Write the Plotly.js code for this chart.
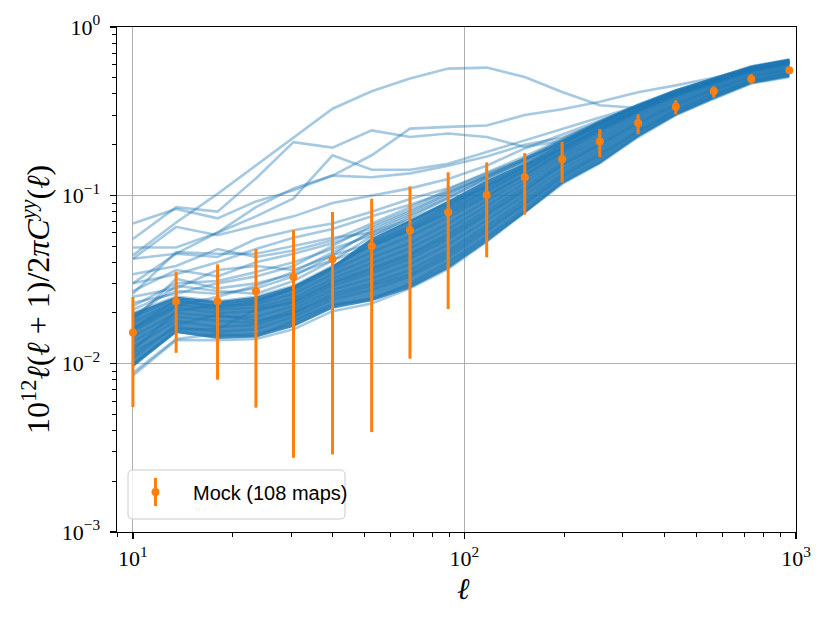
<!DOCTYPE html>
<html>
<head>
<meta charset="utf-8">
<script src="https://cdn.plot.ly/plotly-3.0.1.min.js"></script>
<style>html,body{margin:0;padding:0;background:#fff;}#chart{width:830px;height:623px;}</style>
</head>
<body>
<div id="chart"></div>
<script>
// multipole bins
const ell = [10, 13.5, 18, 23.5, 30.5, 40, 52.5, 68.5, 89.3, 116.7, 152, 197, 256, 334, 434, 565, 733, 955];

// Mock mean and error-bar ends
const mockY  = [0.0153, 0.0234, 0.0235, 0.0269, 0.0327, 0.0417, 0.050, 0.062, 0.0793, 0.1004, 0.128, 0.164, 0.209, 0.269, 0.336, 0.415, 0.491, 0.553];
const mockHi = [0.0249, 0.0352, 0.0389, 0.048, 0.062, 0.0796, 0.0955, 0.113, 0.137, 0.157, 0.178, 0.208, 0.248, 0.303, 0.367, 0.444, 0.524, 0.572];
const mockLo = [0.00552, 0.0116, 0.00803, 0.00548, 0.00276, 0.00289, 0.00392, 0.0107, 0.0211, 0.0428, 0.0768, 0.119, 0.169, 0.231, 0.303, 0.380, 0.461, 0.535];
const legendLabel = 'Mock (108 maps)';
const xTitle = '<i>ℓ</i>';
const yTitle = '10<sup>12</sup><i>ℓ</i>(<i>ℓ</i> + 1)/2<i>π</i><i>C</i><sup><i>yy</i></sup>(<i>ℓ</i>)';

// dense core of the 108 map curves (envelope)
const coreHi = [0.020, 0.025, 0.0235, 0.025, 0.029, 0.038, 0.056, 0.071, 0.093, 0.123, 0.155, 0.203, 0.27, 0.343, 0.42, 0.493, 0.584, 0.64];
const coreLo = [0.0095, 0.0152, 0.0140, 0.0143, 0.0165, 0.0212, 0.0235, 0.028, 0.0366, 0.0527, 0.078, 0.117, 0.154, 0.222, 0.299, 0.375, 0.461, 0.505];

// individual map curves
const mapA = [0.044, 0.069, 0.102, 0.151, 0.222, 0.327, 0.415, 0.494, 0.566, 0.574, 0.505, 0.411, 0.343, 0.33, 0.40, 0.48, 0.57, 0.63];
const mapB = [0.055, 0.085, 0.080, 0.126, 0.207, 0.192, 0.243, 0.222, 0.233, 0.222, 0.194, 0.21, 0.26, 0.32, 0.40, 0.48, 0.56, 0.62];
const mapC = [0.030, 0.045, 0.060, 0.075, 0.096, 0.173, 0.142, 0.142, 0.154, 0.181, 0.212, 0.25, 0.29, 0.34, 0.41, 0.48, 0.56, 0.62];
const mapD = [0.068, 0.083, 0.073, 0.092, 0.107, 0.131, 0.128, 0.135, 0.150, 0.17, 0.20, 0.22, 0.27, 0.34, 0.41, 0.48, 0.56, 0.62];
const mapE = [0.049, 0.049, 0.060, 0.085, 0.11, 0.131, 0.173, 0.249, 0.255, 0.26, 0.30, 0.325, 0.36, 0.41, 0.45, 0.50, 0.57, 0.63];
const mapF = [0.042, 0.065, 0.058, 0.066, 0.075, 0.090, 0.100, 0.110, 0.125, 0.15, 0.19, 0.23, 0.28, 0.34, 0.41, 0.48, 0.56, 0.62];
const mapG = [0.042, 0.045, 0.043, 0.055, 0.062, 0.068, 0.080, 0.095, 0.11, 0.135, 0.165, 0.21, 0.27, 0.34, 0.41, 0.48, 0.56, 0.62];
const mapH = [0.030, 0.034, 0.040, 0.048, 0.056, 0.063, 0.075, 0.088, 0.105, 0.13, 0.165, 0.205, 0.26, 0.33, 0.40, 0.48, 0.56, 0.62];
const mapI = [0.026, 0.046, 0.045, 0.045, 0.050, 0.056, 0.060, 0.072, 0.090, 0.115, 0.15, 0.19, 0.25, 0.32, 0.40, 0.47, 0.55, 0.61];
const mapK = [0.022, 0.030, 0.031, 0.035, 0.040, 0.048, 0.058, 0.070, 0.088, 0.112, 0.145, 0.19, 0.25, 0.32, 0.40, 0.47, 0.55, 0.61];
const mapL = [0.025, 0.028, 0.036, 0.038, 0.036, 0.044, 0.052, 0.064, 0.083, 0.108, 0.14, 0.185, 0.245, 0.32, 0.39, 0.47, 0.55, 0.61];
const mapM = [0.018, 0.032, 0.028, 0.030, 0.034, 0.041, 0.050, 0.062, 0.078, 0.10, 0.132, 0.18, 0.24, 0.31, 0.39, 0.46, 0.55, 0.61];
const mapN = [0.021, 0.027, 0.026, 0.028, 0.033, 0.044, 0.062, 0.078, 0.100, 0.128, 0.160, 0.205, 0.27, 0.34, 0.42, 0.49, 0.575, 0.635];
const mapO = [0.023, 0.026, 0.030, 0.033, 0.038, 0.050, 0.066, 0.082, 0.104, 0.132, 0.165, 0.212, 0.275, 0.345, 0.42, 0.495, 0.58, 0.64];
const mapP = [0.019, 0.029, 0.027, 0.026, 0.031, 0.041, 0.057, 0.074, 0.096, 0.125, 0.158, 0.205, 0.27, 0.34, 0.415, 0.49, 0.58, 0.635];
const mapQ = [0.016, 0.022, 0.025, 0.029, 0.035, 0.046, 0.060, 0.076, 0.097, 0.126, 0.16, 0.208, 0.272, 0.342, 0.42, 0.495, 0.585, 0.64];
const mapR = [0.027, 0.036, 0.033, 0.040, 0.045, 0.052, 0.064, 0.080, 0.102, 0.13, 0.163, 0.21, 0.27, 0.34, 0.415, 0.49, 0.575, 0.635];
const mapS = [0.034, 0.038, 0.048, 0.043, 0.047, 0.054, 0.068, 0.085, 0.108, 0.137, 0.17, 0.215, 0.275, 0.345, 0.42, 0.49, 0.575, 0.635];
const mapC01 = [0.0100, 0.0155, 0.0145, 0.0150, 0.0170, 0.0220, 0.0245, 0.0290, 0.038, 0.055, 0.080, 0.118, 0.158, 0.225, 0.302, 0.378, 0.465, 0.51];
const mapC02 = [0.0088, 0.0140, 0.0150, 0.0145, 0.0180, 0.0225, 0.0240, 0.0300, 0.040, 0.057, 0.083, 0.122, 0.165, 0.230, 0.305, 0.385, 0.47, 0.52];
const mapC03 = [0.0115, 0.0165, 0.0155, 0.0160, 0.0190, 0.0240, 0.0275, 0.0330, 0.043, 0.061, 0.088, 0.128, 0.172, 0.238, 0.312, 0.39, 0.478, 0.525];
const mapC04 = [0.0125, 0.0180, 0.0165, 0.0170, 0.0200, 0.0260, 0.0300, 0.0360, 0.047, 0.066, 0.094, 0.135, 0.180, 0.245, 0.322, 0.40, 0.485, 0.535];
const mapC05 = [0.0135, 0.0190, 0.0180, 0.0175, 0.0210, 0.0275, 0.0320, 0.0390, 0.051, 0.071, 0.100, 0.142, 0.188, 0.255, 0.33, 0.41, 0.495, 0.545];
const mapC06 = [0.0145, 0.0200, 0.0190, 0.0190, 0.0220, 0.0290, 0.0345, 0.0420, 0.055, 0.076, 0.106, 0.150, 0.197, 0.265, 0.34, 0.42, 0.505, 0.555];
const mapC07 = [0.0155, 0.0215, 0.0200, 0.0205, 0.0235, 0.0305, 0.0370, 0.0450, 0.059, 0.081, 0.112, 0.157, 0.206, 0.275, 0.35, 0.43, 0.515, 0.565];
const mapC08 = [0.0165, 0.0225, 0.0210, 0.0215, 0.0245, 0.0320, 0.0395, 0.0485, 0.063, 0.086, 0.118, 0.165, 0.215, 0.285, 0.36, 0.44, 0.525, 0.575];
const mapC09 = [0.0175, 0.0235, 0.0220, 0.0225, 0.0260, 0.0340, 0.0425, 0.0520, 0.068, 0.092, 0.125, 0.172, 0.225, 0.295, 0.37, 0.45, 0.535, 0.585];
const mapC10 = [0.0190, 0.0245, 0.0230, 0.0240, 0.0275, 0.0360, 0.0460, 0.0570, 0.074, 0.098, 0.132, 0.180, 0.235, 0.305, 0.38, 0.46, 0.545, 0.595];
const mapC11 = [0.0200, 0.0250, 0.0235, 0.0250, 0.0290, 0.0380, 0.0500, 0.0620, 0.080, 0.105, 0.14, 0.19, 0.245, 0.315, 0.39, 0.47, 0.555, 0.605];
const mapC12 = [0.0160, 0.0240, 0.0215, 0.0230, 0.0280, 0.0370, 0.0520, 0.0660, 0.086, 0.113, 0.148, 0.197, 0.255, 0.325, 0.40, 0.48, 0.565, 0.615];
const mapC13 = [0.0120, 0.0205, 0.0225, 0.0235, 0.0285, 0.0375, 0.0540, 0.0700, 0.092, 0.120, 0.153, 0.20, 0.265, 0.335, 0.41, 0.49, 0.575, 0.63];
const mapC14 = [0.0085, 0.0138, 0.0138, 0.0140, 0.0160, 0.0205, 0.0228, 0.0280, 0.0366, 0.053, 0.079, 0.117, 0.155, 0.222, 0.30, 0.375, 0.462, 0.505];
const mapC15 = [0.0108, 0.0170, 0.0195, 0.0180, 0.0200, 0.0250, 0.0290, 0.0340, 0.045, 0.063, 0.090, 0.13, 0.175, 0.24, 0.318, 0.395, 0.48, 0.53];
const mapC16 = [0.0098, 0.0160, 0.0160, 0.0210, 0.0230, 0.0300, 0.0360, 0.0440, 0.057, 0.078, 0.108, 0.152, 0.20, 0.27, 0.345, 0.425, 0.51, 0.56];

// tick labels
const xTickVals = [10, 100, 1000];
const xTickText = ['10<sup>1</sup>', '10<sup>2</sup>', '10<sup>3</sup>'];
const yTickVals = [0.001, 0.01, 0.1, 1];
const yTickText = ['10<sup>−3</sup>', '10<sup>−2</sup>', '10<sup>−1</sup>', '10<sup>0</sup>'];
const xMinor = [9, 20, 30, 40, 50, 60, 70, 80, 90, 200, 300, 400, 500, 600, 700, 800, 900];
const yMinor = [0.002, 0.003, 0.004, 0.005, 0.006, 0.007, 0.008, 0.009, 0.02, 0.03, 0.04, 0.05, 0.06, 0.07, 0.08, 0.09, 0.2, 0.3, 0.4, 0.5, 0.6, 0.7, 0.8, 0.9];

const mapCurves = [mapA, mapB, mapC, mapD, mapE, mapF, mapG, mapH, mapI, mapK, mapL, mapM,
  mapN, mapO, mapP, mapQ, mapR, mapS,
  mapC01, mapC02, mapC03, mapC04, mapC05, mapC06, mapC07, mapC08, mapC09, mapC10,
  mapC11, mapC12, mapC13, mapC14, mapC15, mapC16];

const blue = 'rgba(31,119,180,0.4)';
const orange = '#ff7f0e';
const serif = 'Liberation Serif, DejaVu Serif, serif';
const traces = [];

traces.push({
  x: ell.concat(ell.slice().reverse()),
  y: coreHi.concat(coreLo.slice().reverse()),
  type: 'scatter', mode: 'lines', fill: 'toself',
  fillcolor: 'rgba(31,119,180,0.82)', line: {width: 0, color: 'rgba(0,0,0,0)'},
  showlegend: false, hoverinfo: 'skip'
});

mapCurves.forEach(function (c) {
  traces.push({x: ell, y: c, type: 'scatter', mode: 'lines',
    line: {color: blue, width: 2.6}, showlegend: false, hoverinfo: 'skip'});
});

traces.push({
  x: ell, y: mockY, type: 'scatter', mode: 'markers',
  name: legendLabel, showlegend: false,
  marker: {color: orange, size: 8},
  error_y: {type: 'data', symmetric: false,
    array: mockHi.map(function (v, i) { return v - mockY[i]; }),
    arrayminus: mockLo.map(function (v, i) { return mockY[i] - v; }),
    color: orange, thickness: 3, width: 0}
});

// plot-area geometry (pixels) for the hand-drawn legend box and titles
const M = {l: 117, r: 34, t: 27, b: 91};
const W = 830, H = 623;
const pw = W - M.l - M.r, ph = H - M.t - M.b;
function px(x) { return (x - M.l) / pw; }
function py(y) { return (H - M.b - y) / ph; }
function roundRect(x0, y0, x1, y1, r) {
  return 'M' + px(x0 + r) + ',' + py(y0) +
    ' L' + px(x1 - r) + ',' + py(y0) + ' Q' + px(x1) + ',' + py(y0) + ' ' + px(x1) + ',' + py(y0 + r) +
    ' L' + px(x1) + ',' + py(y1 - r) + ' Q' + px(x1) + ',' + py(y1) + ' ' + px(x1 - r) + ',' + py(y1) +
    ' L' + px(x0 + r) + ',' + py(y1) + ' Q' + px(x0) + ',' + py(y1) + ' ' + px(x0) + ',' + py(y1 - r) +
    ' L' + px(x0) + ',' + py(y0 + r) + ' Q' + px(x0) + ',' + py(y0) + ' ' + px(x0 + r) + ',' + py(y0) + ' Z';
}

const shapes = [
  {type: 'path', xref: 'paper', yref: 'paper', layer: 'above',
   path: roundRect(128, 470, 345, 519, 5),
   fillcolor: 'rgba(255,255,255,0.8)', line: {color: '#cccccc', width: 1}},
  {type: 'line', xref: 'paper', yref: 'paper', layer: 'above',
   x0: px(155.5), x1: px(155.5), y0: py(478), y1: py(506), line: {color: orange, width: 3}},
  {type: 'circle', xref: 'paper', yref: 'paper', layer: 'above',
   x0: px(151.5), x1: px(159.5), y0: py(488), y1: py(496), fillcolor: orange, line: {width: 0}}
];

const annotations = [
  {xref: 'paper', yref: 'paper', x: px(191), y: py(493), xanchor: 'left', yanchor: 'middle',
   text: legendLabel, showarrow: false,
   font: {family: 'Liberation Sans, DejaVu Sans, sans-serif', size: 20, color: '#000'}},
  {xref: 'paper', yref: 'paper', x: px(36), y: py(300), xanchor: 'center', yanchor: 'middle',
   textangle: -90, text: yTitle, showarrow: false,
   font: {family: serif, size: 32, color: '#000'}},
  {xref: 'paper', yref: 'paper', x: px(463), y: py(588), xanchor: 'center', yanchor: 'middle',
   text: xTitle, showarrow: false,
   font: {family: serif, size: 30, color: '#000'}}
];

const axisCommon = {
  type: 'log', showline: true, linecolor: '#000', linewidth: 1.4, mirror: true,
  ticks: 'outside', ticklen: 6, tickwidth: 1.2, tickcolor: '#000',
  showgrid: true, gridcolor: '#b0b0b0', gridwidth: 1.1, zeroline: false,
  tickfont: {family: serif, size: 22, color: '#000'},
  tickmode: 'array'
};

const layout = {
  width: W, height: H,
  margin: M,
  paper_bgcolor: '#fff', plot_bgcolor: '#fff',
  showlegend: false,
  shapes: shapes,
  annotations: annotations,
  xaxis: Object.assign({}, axisCommon, {
    range: [0.952, 3.0], tickvals: xTickVals, ticktext: xTickText,
    minor: {tickmode: 'array', tickvals: xMinor, ticks: 'outside', ticklen: 3.5, tickwidth: 1, tickcolor: '#000', showgrid: false}
  }),
  yaxis: Object.assign({}, axisCommon, {
    range: [-3, 0], tickvals: yTickVals, ticktext: yTickText, ticklabelstandoff: 5,
    minor: {tickmode: 'array', tickvals: yMinor, ticks: 'outside', ticklen: 3.5, tickwidth: 1, tickcolor: '#000', showgrid: false}
  })
};

Plotly.newPlot('chart', traces, layout, {staticPlot: true, displayModeBar: false});
</script>
</body>
</html>
